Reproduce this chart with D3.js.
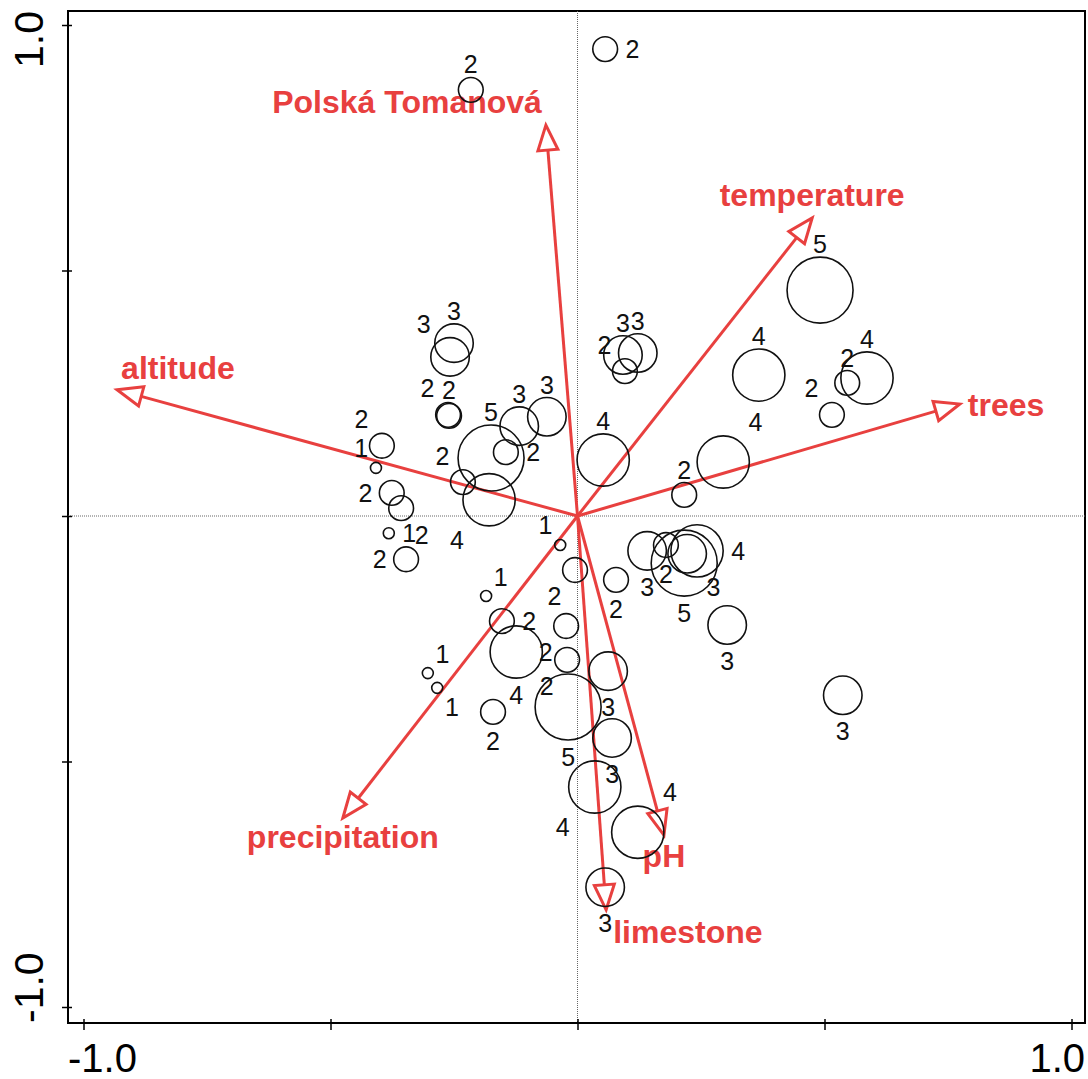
<!DOCTYPE html>
<html>
<head>
<meta charset="utf-8">
<script src="https://cdn.jsdelivr.net/npm/d3@7"></script>
<style>
	body { margin: 0; background: #fff; }
	svg { display: block; font-family: "Liberation Sans", Arial, sans-serif; }
</style>
</head>
<body>
<div id="chart"></div>
<script>
// Samples: axis 1 / axis 2 scores and the class value shown as circle size + label
var sampleX = [0.056, -0.216, 0.491, -0.250, -0.258, -0.260, -0.262, -0.175, -0.118, -0.062,
	-0.145, -0.232, -0.179, -0.396, -0.408, -0.376, -0.357, -0.382, -0.347, -0.035,
	-0.005, -0.185, -0.153, -0.124, -0.023, -0.021, -0.019, -0.303, -0.284, -0.171,
	0.062, 0.070, 0.035, 0.122, 0.056, 0.537, 0.303, 0.078, 0.141, 0.179,
	0.216, 0.242, 0.222, 0.092, 0.122, 0.096, 0.367, 0.586, 0.546, 0.515,
	0.295, 0.216, 0.052];
var sampleY = [0.951, 0.868, 0.460, 0.352, 0.324, 0.204, 0.206, 0.118, 0.183, 0.202,
	0.130, 0.069, 0.033, 0.143, 0.098, 0.047, 0.016, -0.035, -0.088, -0.059,
	-0.110, -0.163, -0.214, -0.277, -0.224, -0.293, -0.389, -0.320, -0.350, -0.399,
	-0.316, -0.452, -0.552, -0.644, -0.756, -0.365, -0.222, -0.130, -0.071, -0.059,
	-0.096, -0.071, -0.077, 0.328, 0.332, 0.295, 0.287, 0.281, 0.271, 0.206,
	0.110, 0.043, 0.114];
var sampleClass = [2, 2, 5, 3, 3, 2, 2, 5, 3, 3,
	2, 2, 4, 2, 1, 2, 2, 1, 2, 1,
	2, 1, 2, 4, 2, 2, 5, 1, 1, 2,
	3, 3, 4, 4, 3, 3, 3, 2, 3, 2,
	5, 4, 3, 3, 3, 2, 4, 4, 2, 2,
	4, 2, 4];
// where the label sits around its circle
var labelSide = ["r", "t", "t", "t", "tl", "t", "tl", "t", "t", "t",
	"r", "tl", "bl", "tl", "tl", "l", "br", "r", "l", "tl",
	"bl", "tr", "r", "b", "bl", "bl", "b", "tr", "br", "b",
	"b", "b", "bl", "tr", "b", "b", "b", "b", "b", "b",
	"b", "r", "br", "t", "t", "tl", "t", "t", "t", "tl",
	"tr", "t", "t"];

// Environmental variables (arrow tips)
var envNames = ["altitude", "Polská Tomanová", "temperature", "trees", "precipitation", "pH", "limestone"];
var envX = [-0.932, -0.064, 0.475, 0.774, -0.475, 0.175, 0.058];
var envY = [0.257, 0.796, 0.607, 0.228, -0.615, -0.650, -0.802];

var tickValues = [-1, -0.5, 0, 0.5, 1];
var endLabels = ["-1.0", "1.0"];

var width = 1088,
		height = 1079,
		frame = {left: 68, top: 11, right: 1085, bottom: 1023},
		red = "#e8403f";

var x = d3.scaleLinear().domain([-1, 1]).range([83.5, 1071.5]);
var y = d3.scaleLinear().domain([-1, 1]).range([1007, 25]);
var r = d3.scaleLinear().domain([1, 5]).range([5.5, 33]);

var svg = d3.select("#chart").append("svg")
		.attr("width", width)
		.attr("height", height);

// Frame
svg.append("rect")
		.attr("x", frame.left)
		.attr("y", frame.top)
		.attr("width", frame.right - frame.left)
		.attr("height", frame.bottom - frame.top)
		.attr("fill", "none")
		.attr("stroke", "#000")
		.attr("stroke-width", 2);

// Zero lines
svg.append("line")
		.attr("x1", frame.left).attr("x2", frame.right)
		.attr("y1", y(0)).attr("y2", y(0))
		.attr("stroke", "#666")
		.attr("stroke-width", 1)
		.attr("stroke-dasharray", "1,1");

svg.append("line")
		.attr("x1", x(0)).attr("x2", x(0))
		.attr("y1", frame.top).attr("y2", frame.bottom)
		.attr("stroke", "#666")
		.attr("stroke-width", 1)
		.attr("stroke-dasharray", "1,1");

// Axes (ticks cross the frame line)
var xAxis = svg.append("g")
		.attr("transform", "translate(0," + frame.bottom + ")")
		.call(d3.axisBottom(x).tickValues(tickValues).tickSize(7).tickFormat(""));
xAxis.select(".domain").remove();
xAxis.selectAll("line").attr("y1", -4).attr("stroke-width", 1.5);

var yAxis = svg.append("g")
		.attr("transform", "translate(" + frame.left + ",0)")
		.call(d3.axisLeft(y).tickValues(tickValues).tickSize(6).tickFormat(""));
yAxis.select(".domain").remove();
yAxis.selectAll("line").attr("x1", 4).attr("stroke-width", 1.5);

// End labels
svg.append("text")
		.attr("x", frame.left)
		.attr("y", 1072)
		.attr("font-size", 40)
		.text(endLabels[0]);

svg.append("text")
		.attr("x", frame.right)
		.attr("y", 1072)
		.attr("font-size", 40)
		.attr("text-anchor", "end")
		.text(endLabels[1]);

svg.append("text")
		.attr("transform", "translate(43," + frame.top + ") rotate(-90)")
		.attr("font-size", 41)
		.attr("text-anchor", "end")
		.text(endLabels[1]);

svg.append("text")
		.attr("transform", "translate(43," + frame.bottom + ") rotate(-90)")
		.attr("font-size", 41)
		.text(endLabels[0]);

// Arrows
var envData = envNames.map(function(d, i) { return {name: d, x: envX[i], y: envY[i]}; });
var headLen = 25, headHalf = 10;

var envLabelPos = {
	"altitude": {anchor: "start", dx: 4, dy: -11},
	"Polská Tomanová": {anchor: "end", dx: -4, dy: -12},
	"temperature": {anchor: "middle", dx: 0, dy: -12},
	"trees": {anchor: "start", dx: 8, dy: 12},
	"precipitation": {anchor: "middle", dx: 0, dy: 30},
	"pH": {anchor: "middle", dx: 0, dy: 32},
	"limestone": {anchor: "start", dx: 7, dy: 33}
};

var arrow = svg.append("g").attr("class", "arrows")
	.selectAll("g")
	.data(envData)
	.enter().append("g");

arrow.each(function(d) {
	var g = d3.select(this);
	var x0 = x(0), y0 = y(0), x1 = x(d.x), y1 = y(d.y);
	var len = Math.sqrt((x1 - x0) * (x1 - x0) + (y1 - y0) * (y1 - y0));
	var ux = (x1 - x0) / len, uy = (y1 - y0) / len;
	var bx = x1 - ux * headLen, by = y1 - uy * headLen;

	g.append("line")
			.attr("x1", x0).attr("y1", y0)
			.attr("x2", bx).attr("y2", by)
			.attr("stroke", red)
			.attr("stroke-width", 3);

	g.append("path")
			.attr("d", "M" + x1 + "," + y1 +
				"L" + (bx - uy * headHalf) + "," + (by + ux * headHalf) +
				"L" + (bx + uy * headHalf) + "," + (by - ux * headHalf) + "Z")
			.attr("fill", "#fff")
			.attr("stroke", red)
			.attr("stroke-width", 3)
			.attr("stroke-linejoin", "miter");

	var p = envLabelPos[d.name];
	g.append("text")
			.attr("x", x1 + p.dx)
			.attr("y", y1 + p.dy)
			.attr("text-anchor", p.anchor)
			.attr("font-size", 32)
			.attr("font-weight", "bold")
			.attr("fill", red)
			.text(d.name);
});

// Samples
var samples = sampleX.map(function(d, i) {
	return {x: d, y: sampleY[i], v: sampleClass[i], side: labelSide[i]};
});

var sample = svg.append("g").attr("class", "samples")
	.selectAll("g")
	.data(samples)
	.enter().append("g");

sample.append("circle")
		.attr("cx", function(d) { return x(d.x); })
		.attr("cy", function(d) { return y(d.y); })
		.attr("r", function(d) { return r(d.v); })
		.attr("fill", "none")
		.attr("stroke", "#111")
		.attr("stroke-width", 1.6);

function labelOffset(side, rad) {
	var dd = 0.85 * rad + 10, dv = rad + 14;
	switch (side) {
		case "t": return [0, -(rad + 13)];
		case "b": return [0, rad + 17];
		case "l": return [-(rad + 14), 0];
		case "r": return [rad + 15, 0];
		case "tl": return [-dd, -dv];
		case "tr": return [dd, -dv];
		case "bl": return [-dd, dv];
		case "br": return [dd, dv];
	}
	return [0, 0];
}

sample.append("text")
		.attr("x", function(d) { return x(d.x) + labelOffset(d.side, r(d.v))[0]; })
		.attr("y", function(d) { return y(d.y) + labelOffset(d.side, r(d.v))[1]; })
		.attr("dy", "0.36em")
		.attr("text-anchor", "middle")
		.attr("font-size", 25)
		.attr("fill", "#111")
		.text(function(d) { return d.v; });
</script>
</body>
</html>
